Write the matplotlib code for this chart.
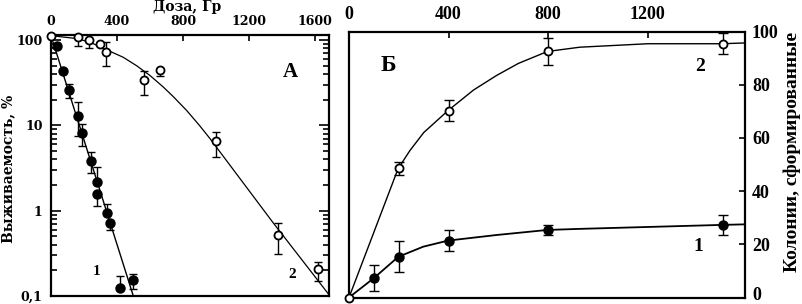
import matplotlib
matplotlib.use('Agg')
import matplotlib.pyplot as plt
import matplotlib.transforms as mtransforms
from matplotlib.ticker import FixedLocator, NullLocator

# ---- panel A: survival vs dose (log scale) ----
a_dose_open = [0, 166, 232, 297, 333, 566, 661, 1000, 1375, 1616]
a_surv_open = [113, 110, 100, 90, 73, 34.5, 45, 6.5, 0.52, 0.205]
a_open_lo = [0, 24, 20, 0, 23, 11.5, 6.5, 2.2, 0.21, 0.054]
a_open_hi = [0, 0, 0, 0, 21, 9.5, 0, 1.9, 0.19, 0.045]

a_dose_fill = [34, 75, 109, 162, 190, 240, 281, 281, 337, 358, 418, 499]
a_surv_fill = [85, 44, 26, 13, 8.1, 3.8, 2.2, 1.59, 0.94, 0.72, 0.123, 0.154]
a_fill_lo = [0, 0, 5, 5.4, 2.3, 1.0, 0, 0.46, 0, 0.12, 0, 0.034]
a_fill_hi = [0, 0, 5, 5.7, 2.2, 1.1, 1.05, 0, 0.25, 0, 0.047, 0.026]

# fitted curves
a_fit1_dose = [0, 499]
a_fit1_surv = [113, 0.1]
a_fit2_dose = [0, 164, 250, 338, 438, 520, 600, 680, 741, 822, 900, 964, 1347, 1691]
a_fit2_surv = [113, 104, 92, 77, 63, 50, 38.5, 28.3, 21.8, 15, 10, 7.0, 0.72, 0.1]

a_xticks = [0, 400, 800, 1200, 1600]
a_yticks = [0.1, 1, 10, 100]
a_ylabels = ['0,1', '1', '10', '100']

# ---- panel B: colonies formed vs dose ----
b_dose_open = [0, 200, 400, 800, 1500]
b_col_open = [0, 48.5, 70.3, 92.5, 95.4]
b_err_open = [0, 2.6, 3.9, 5, 4]

b_dose_fill = [100, 200, 400, 800, 1500]
b_col_fill = [7.3, 15.3, 21.4, 25.4, 27.3]
b_err_fill = [5, 5.9, 4, 2, 3.8]

b_fit2_dose = [0, 197, 245, 300, 398, 500, 593, 680, 797, 927, 1200, 1497, 1590]
b_fit2_col = [0, 48.4, 55.3, 62, 70.3, 78, 83.5, 88, 92.5, 94.1, 95.4, 95.4, 95.7]
b_fit1_dose = [0, 100, 198, 298, 398, 593, 797, 927, 1500, 1590]
b_fit1_col = [0, 7.3, 15.3, 19.1, 21.4, 23.5, 25.4, 25.8, 27.3, 27.5]

b_xticks = [0, 400, 800, 1200]
b_yticks = [0, 20, 40, 60, 80, 100]

SERIF_A = 'DejaVu Serif'
SERIF_B = 'Liberation Serif'

fig = plt.figure(figsize=(8.03, 3.04), dpi=100)

# ---------------- A ----------------
axA = fig.add_axes([51 / 803, 8 / 304, 278 / 803, 261 / 304])
axA.set_yscale('log')
axA.set_xlim(0, 1685)
axA.set_ylim(0.1, 115)

axA.plot(a_fit1_dose, a_fit1_surv, color='black', lw=1.0, zorder=2)
axA.plot(a_fit2_dose, a_fit2_surv, color='black', lw=0.9, zorder=2)
axA.errorbar(a_dose_open, a_surv_open, yerr=[a_open_lo, a_open_hi], fmt='none',
             ecolor='black', elinewidth=1, capsize=3, capthick=1, zorder=3)
axA.errorbar(a_dose_fill, a_surv_fill, yerr=[a_fill_lo, a_fill_hi], fmt='none',
             ecolor='black', elinewidth=1, capsize=3, capthick=1, zorder=3)
axA.plot(a_dose_open, a_surv_open, 'o', ms=5.8, mfc='white', mec='black', mew=1.3,
         zorder=4, clip_on=False)
axA.plot(a_dose_fill, a_surv_fill, 'o', ms=6.5, mfc='black', mec='black', zorder=4,
         clip_on=False)

for s in axA.spines.values():
    s.set_linewidth(1.6)
axA.xaxis.tick_top()
axA.xaxis.set_major_locator(FixedLocator(a_xticks))
axA.xaxis.set_minor_locator(NullLocator())
axA.set_xticklabels([str(t) for t in a_xticks], fontfamily=SERIF_A,
                    fontweight='bold', fontsize=9)
axA.tick_params(axis='x', direction='in', length=4, width=1.2, pad=5)
axA.yaxis.set_major_locator(FixedLocator(a_yticks))
axA.set_yticklabels(a_ylabels, fontfamily=SERIF_A, fontweight='bold', fontsize=9)
axA.tick_params(axis='y', which='both', direction='in', left=True, right=True,
                width=1.2)
axA.tick_params(axis='y', which='major', length=7, pad=6)
axA.tick_params(axis='y', which='minor', length=4)

axA.text(0.86, 0.858, 'А', transform=axA.transAxes, fontfamily=SERIF_B,
         fontweight='bold', fontsize=15, ha='center', va='center')
axA.text(0.164, 0.093, '1', transform=axA.transAxes, fontfamily=SERIF_B,
         fontweight='bold', fontsize=11, ha='center', va='center')
axA.text(0.866, 0.083, '2', transform=axA.transAxes, fontfamily=SERIF_B,
         fontweight='bold', fontsize=11, ha='center', va='center')

fig.text(187 / 803, 1 - 7 / 304, 'Доза, Гр', fontfamily=SERIF_A, fontweight='bold',
         fontsize=10, ha='center', va='center')
fig.text(8 / 803, 1 - 169 / 304, 'Выживаемость, %', fontfamily=SERIF_A,
         fontweight='bold', fontsize=10, rotation=90, ha='center', va='center')

# ---------------- B ----------------
axB = fig.add_axes([349 / 803, 6.5 / 304, 396 / 803, 266 / 304])
axB.set_xlim(0, 1590)
axB.set_ylim(0, 100)

axB.plot(b_fit2_dose, b_fit2_col, color='black', lw=1.0, zorder=2)
axB.plot(b_fit1_dose, b_fit1_col, color='black', lw=1.3, zorder=2)
axB.errorbar(b_dose_open, b_col_open, yerr=b_err_open, fmt='none', ecolor='black',
             elinewidth=1, capsize=3.5, capthick=1, zorder=3)
axB.errorbar(b_dose_fill, b_col_fill, yerr=b_err_fill, fmt='none', ecolor='black',
             elinewidth=1, capsize=3.5, capthick=1, zorder=3)
axB.plot(b_dose_fill, b_col_fill, 'o', ms=6.5, mfc='black', mec='black', zorder=4)
axB.plot(b_dose_open, b_col_open, 'o', ms=5.8, mfc='white', mec='black', mew=1.3,
         zorder=5, clip_on=False)

for s in axB.spines.values():
    s.set_linewidth(1.6)
axB.xaxis.tick_top()
axB.yaxis.tick_right()
axB.xaxis.set_major_locator(FixedLocator(b_xticks))
axB.set_xticklabels([str(t) for t in b_xticks], fontfamily=SERIF_B,
                    fontweight='bold', fontsize=13)
axB.yaxis.set_major_locator(FixedLocator(b_yticks))
axB.set_yticklabels([str(t) for t in b_yticks], fontfamily=SERIF_B,
                    fontweight='bold', fontsize=13)
axB.tick_params(axis='x', direction='in', length=4, width=1.2, pad=6)
axB.tick_params(axis='y', direction='in', length=4, width=1.2, pad=5)

# lift the bottom "0" a little so it stays inside the picture
zero_lbl = axB.get_yticklabels()[0]
zero_lbl.set_transform(zero_lbl.get_transform() +
                       mtransforms.ScaledTranslation(0, 3 / 72, fig.dpi_scale_trans))

axB.text(0.099, 0.874, 'Б', transform=axB.transAxes, fontfamily=SERIF_B,
         fontweight='bold', fontsize=17, ha='center', va='center')
axB.text(0.886, 0.868, '2', transform=axB.transAxes, fontfamily=SERIF_B,
         fontweight='bold', fontsize=14, ha='center', va='center')
axB.text(0.882, 0.191, '1', transform=axB.transAxes, fontfamily=SERIF_B,
         fontweight='bold', fontsize=14, ha='center', va='center')

fig.text(792 / 803, 1 - 152 / 304, 'Колонии, сформированные', fontfamily=SERIF_B,
         fontweight='bold', fontsize=14, rotation=90, ha='center', va='center')

fig.savefig('out.png', dpi=100)
